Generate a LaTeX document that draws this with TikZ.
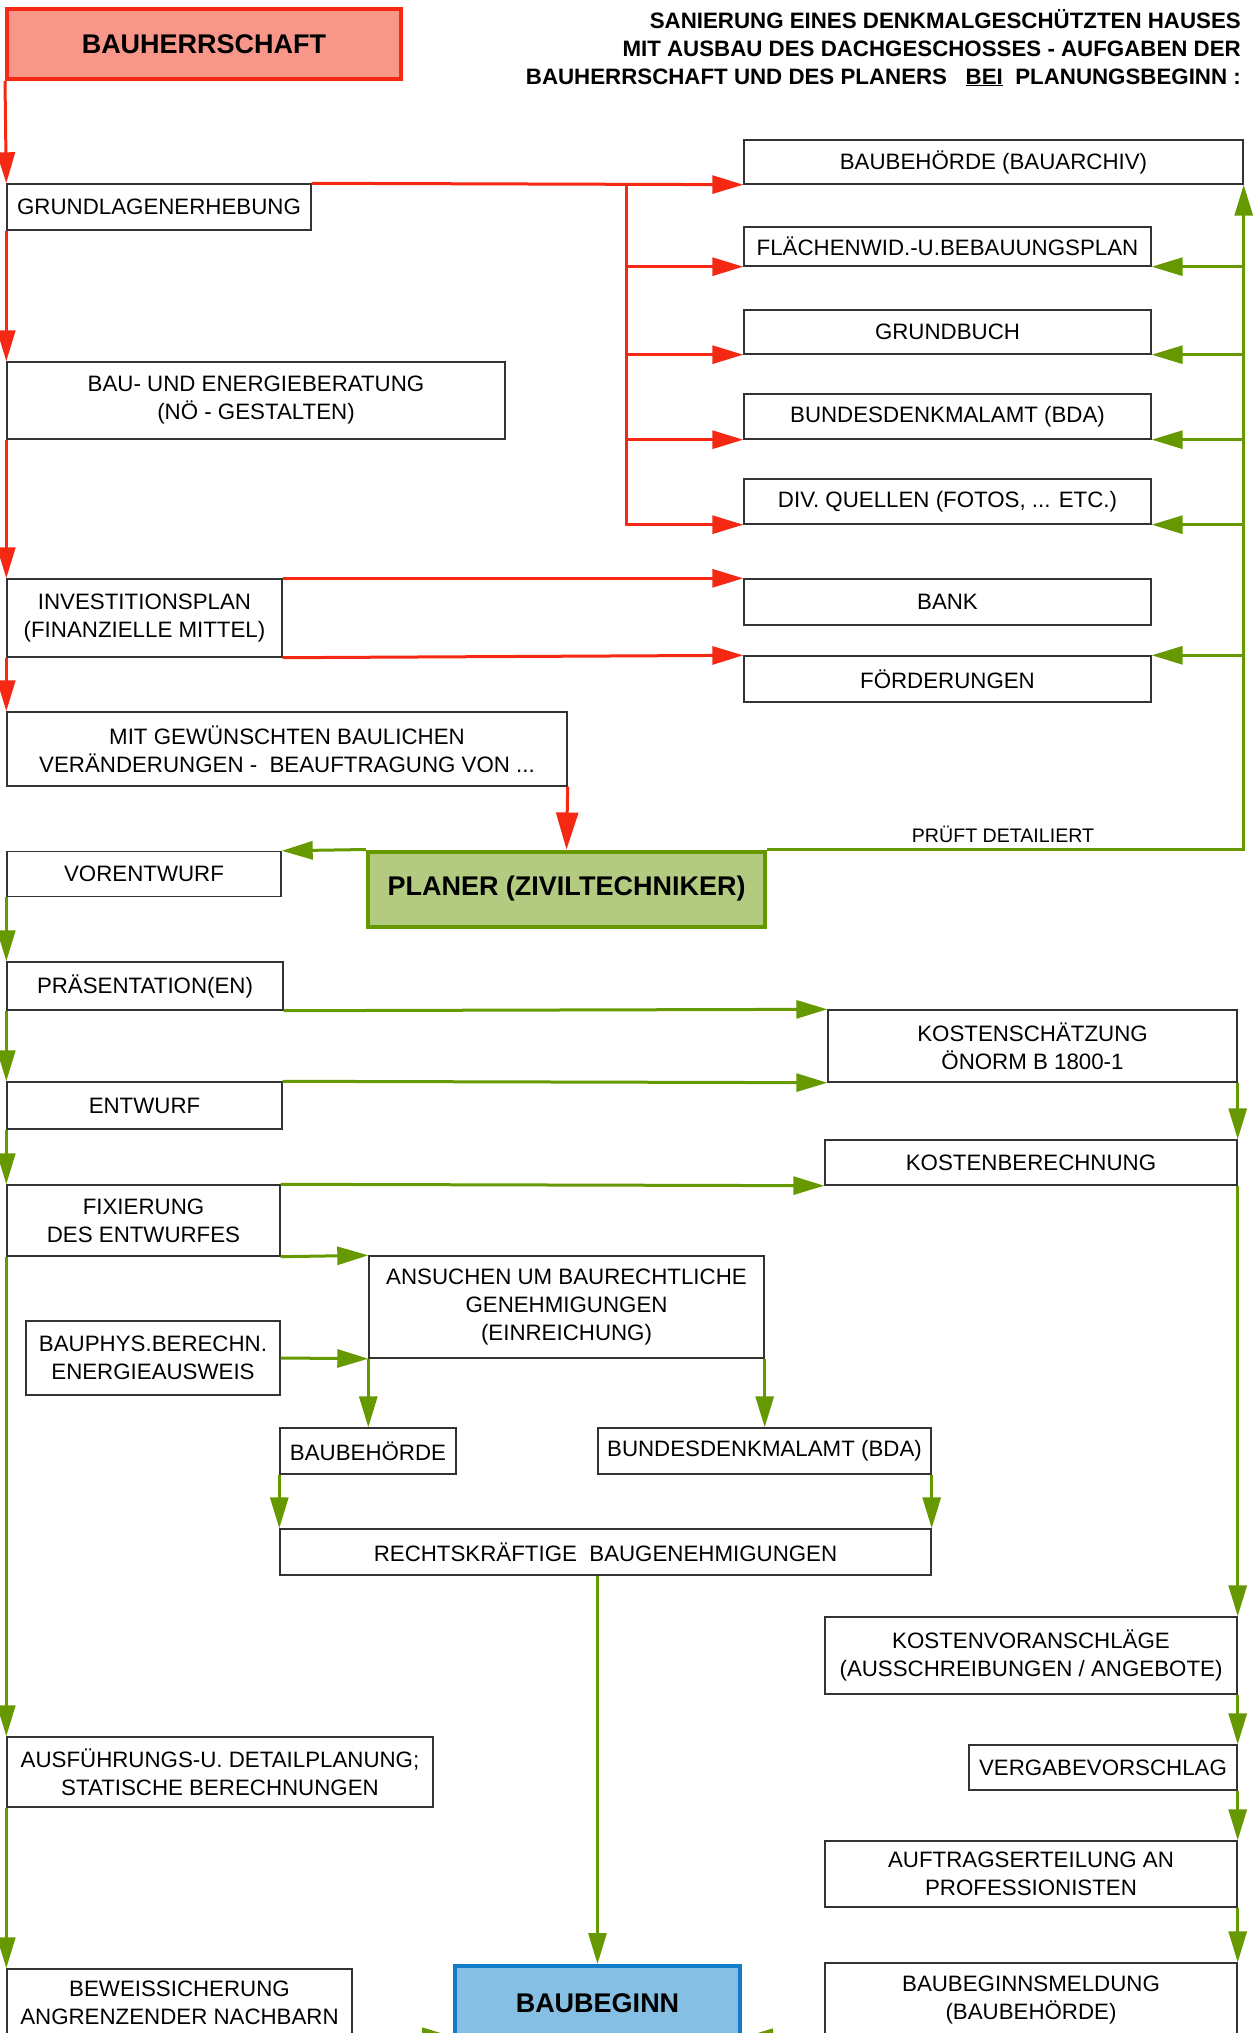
\documentclass[tikz,border=0pt]{standalone}
\usepackage{fontspec}
\setmainfont{Liberation Sans}
\usetikzlibrary{arrows.meta}
\definecolor{pfeilrot}{RGB}{245,40,20}
\definecolor{lachs}{RGB}{249,150,138}
\definecolor{pfeilgruen}{RGB}{102,153,0}
\definecolor{hellgruen}{RGB}{178,203,128}
\definecolor{hellblau}{RGB}{133,191,228}
\definecolor{rahmenblau}{RGB}{18,124,200}
\newcommand{\boxfont}{\fontsize{22.3}{28}\selectfont}
\newcommand{\rolefont}{\fontsize{27}{32}\selectfont\bfseries}
\newcommand{\notefont}{\fontsize{19.6}{24}\selectfont}

\tikzset{
  box/.style={draw=black!80, line width=1.4pt, fill=white, inner sep=0pt, align=center, font=\boxfont},
  role/.style={line width=4pt, inner sep=0pt, align=center, font=\rolefont},
  redflow/.style={draw=pfeilrot, line width=3pt, -{Triangle[length=31pt,width=18pt]}},
  greenflow/.style={draw=pfeilgruen, line width=3pt, -{Triangle[length=31pt,width=18pt]}},
}

\begin{document}
\begin{tikzpicture}[x=1pt,y=-1pt]
\useasboundingbox (0,0) rectangle (1259,2033);
\clip (0,0) rectangle (1259,2033);

\node[role, draw=pfeilrot, fill=lachs, minimum width=394pt, minimum height=70pt] (bauherr) at (204,44) {BAUHERRSCHAFT};
\node[anchor=north east, align=right, inner sep=0pt, font=\boxfont\bfseries] (titel) at (1241,9) {SANIERUNG EINES DENKMALGESCHÜTZTEN HAUSES\\MIT AUSBAU DES DACHGESCHOSSES - AUFGABEN DER\\BAUHERRSCHAFT UND DES PLANERS~~~\underline{BEI}~~PLANUNGSBEGINN :};

\node[box, minimum width=304pt, minimum height=46pt] (grundlagen) at (159,207) {GRUNDLAGENERHEBUNG};
\node[box, minimum width=498pt, minimum height=77pt] (beratung) at (256,400.5) {BAU- UND ENERGIEBERATUNG\\(NÖ - GESTALTEN)};
\node[box, minimum width=275pt, minimum height=78pt] (invest) at (144.5,618) {INVESTITIONSPLAN\\(FINANZIELLE MITTEL)};
\node[box, minimum width=560pt, minimum height=74pt] (auftrag) at (287,749) {MIT GEWÜNSCHTEN BAULICHEN\\VERÄNDERUNGEN -~ BEAUFTRAGUNG VON ...};

\node[box, minimum width=499pt, minimum height=44pt] (archiv) at (993.5,162) {BAUBEHÖRDE (BAUARCHIV)};
\node[box, minimum width=407pt, minimum height=39pt] (flaewi) at (947.5,246.5) {FLÄCHENWID.-U.BEBAUUNGSPLAN};
\node[box, minimum width=407pt, minimum height=44pt] (grundbuch) at (947.5,332) {GRUNDBUCH};
\node[box, minimum width=407pt, minimum height=45pt] (bda1) at (947.5,416.5) {BUNDESDENKMALAMT (BDA)};
\node[box, minimum width=407pt, minimum height=45pt] (quellen) at (947.5,501.5) {DIV. QUELLEN (FOTOS, ... ETC.)};
\node[box, minimum width=407pt, minimum height=46pt] (bank) at (947.5,602) {BANK};
\node[box, minimum width=407pt, minimum height=46pt] (foerder) at (947.5,679) {FÖRDERUNGEN};

\node[role, draw=pfeilgruen, fill=hellgruen, minimum width=397pt, minimum height=75pt] (planer) at (566.5,889) {PLANER (ZIVILTECHNIKER)};
\node[font=\notefont, anchor=base, inner sep=0pt] (pruef) at (1003,842) {PRÜFT DETAILIERT};

\node[box, minimum width=274pt, minimum height=45pt] (vorentwurf) at (144,874) {VORENTWURF};
\node[box, minimum width=276pt, minimum height=48pt] (praes) at (145,986) {PRÄSENTATION(EN)};
\node[box, minimum width=275pt, minimum height=47pt] (entwurf) at (144.5,1105.5) {ENTWURF};
\node[box, minimum width=273pt, minimum height=71pt] (fixierung) at (143.5,1220.5) {FIXIERUNG\\DES ENTWURFES};
\node[box, minimum width=254pt, minimum height=74pt] (bauphys) at (153,1358) {BAUPHYS.BERECHN.\\ENERGIEAUSWEIS};
\node[box, minimum width=426pt, minimum height=70pt] (ausfuehrung) at (220,1772) {AUSFÜHRUNGS-U. DETAILPLANUNG;\\STATISCHE BERECHNUNGEN};
\node[box, minimum width=345pt, minimum height=67pt] (beweis) at (179.5,2002.5) {BEWEISSICHERUNG\\ANGRENZENDER NACHBARN};

\node[box, minimum width=409pt, minimum height=72pt] (schaetz) at (1032.5,1046) {KOSTENSCHÄTZUNG\\ÖNORM B 1800-1};
\node[box, minimum width=412pt, minimum height=45pt] (berech) at (1031,1162.5) {KOSTENBERECHNUNG};
\node[box, minimum width=412pt, minimum height=77pt] (voran) at (1031,1655.5) {KOSTENVORANSCHLÄGE\\(AUSSCHREIBUNGEN / ANGEBOTE)};
\node[box, minimum width=268pt, minimum height=45pt] (vergabe) at (1103,1767.5) {VERGABEVORSCHLAG};
\node[box, minimum width=412pt, minimum height=66pt] (auftragsert) at (1031,1874) {AUFTRAGSERTEILUNG AN\\PROFESSIONISTEN};
\node[box, minimum width=412pt, minimum height=74pt] (meldung) at (1031,2000) {BAUBEGINNSMELDUNG\\(BAUBEHÖRDE)};

\node[box, minimum width=395pt, minimum height=102pt] (ansuchen) at (566.5,1307) {ANSUCHEN UM BAURECHTLICHE\\GENEHMIGUNGEN\\(EINREICHUNG)};
\node[box, minimum width=176pt, minimum height=46pt] (behoerde) at (368,1451) {BAUBEHÖRDE};
\node[box, minimum width=333pt, minimum height=46pt] (bda2) at (764.5,1451) {BUNDESDENKMALAMT (BDA)};
\node[box, minimum width=651pt, minimum height=46pt] (rechts) at (605.5,1552) {RECHTSKRÄFTIGE~ BAUGENEHMIGUNGEN};
\node[role, draw=rahmenblau, fill=hellblau, minimum width=285pt, minimum height=74pt] (baubeginn) at (597.5,2003) {BAUBEGINN};

\draw[redflow] (bauherr.south west) -- (grundlagen.north west);
\draw[redflow] (grundlagen.south west) -- (beratung.north west);
\draw[redflow] (beratung.south west) -- (invest.north west);
\draw[redflow] (invest.south west) -- (auftrag.north west);
\draw[redflow, -{Triangle[length=37pt,width=22pt]}] (auftrag.south east) -- (planer.north);
\draw[redflow] (grundlagen.north east) -- (archiv.south west);
\coordinate (verteiler) at (626,184);
\foreach \ziel in {flaewi,grundbuch,bda1}
  \draw[redflow] (verteiler |- \ziel.south west) -- (\ziel.south west);
\draw[redflow] (verteiler) |- (quellen.south west);
\draw[redflow] (invest.north east) -- (bank.north west);
\draw[redflow] (invest.south east) -- (foerder.north west);

\draw[greenflow] (planer.north west) -- (vorentwurf.north east);
\draw[greenflow] (planer.north east) -| (archiv.south east);
\foreach \ziel in {flaewi,grundbuch,bda1,quellen}
  \draw[greenflow] (archiv.south east |- \ziel.south east) -- (\ziel.south east);
\draw[greenflow] (archiv.south east |- foerder.north east) -- (foerder.north east);

\foreach \von/\nach in {vorentwurf/praes,praes/entwurf,entwurf/fixierung,fixierung/ausfuehrung,ausfuehrung/beweis}
  \draw[greenflow] (\von.south west) -- (\nach.north west);
\foreach \von/\nach in {schaetz/berech,berech/voran,voran/vergabe,vergabe/auftragsert,auftragsert/meldung}
  \draw[greenflow] (\von.south east) -- (\nach.north east);

\draw[greenflow] (praes.south east) -- (schaetz.north west);
\draw[greenflow] (entwurf.north east) -- (schaetz.south west);
\draw[greenflow] (fixierung.north east) -- (berech.south west);
\draw[greenflow] (fixierung.south east) -- (ansuchen.north west);
\draw[greenflow] (bauphys.east) -- (ansuchen.south west);
\draw[greenflow] (ansuchen.south west) -- (ansuchen.south west |- behoerde.north);
\draw[greenflow] (ansuchen.south east) -- (ansuchen.south east |- bda2.north);
\draw[greenflow] (behoerde.south west) -- (rechts.north west);
\draw[greenflow] (bda2.south east) -- (rechts.north east);
\draw[greenflow] (baubeginn.north |- rechts.south) -- (baubeginn.north);
\draw[greenflow] (beweis.south east) -- (baubeginn.west |- beweis.south east);
\draw[greenflow] (meldung.south west) -- (baubeginn.east |- meldung.south west);
\end{tikzpicture}
\end{document}
